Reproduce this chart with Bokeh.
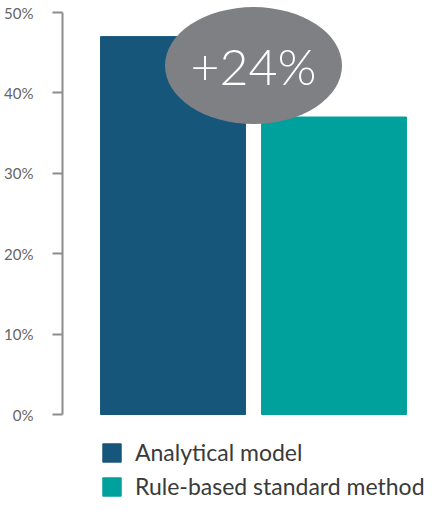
from bokeh.plotting import figure
from bokeh.models import ColumnDataSource, Range1d, FixedTicker, PrintfTickFormatter
from bokeh.core.properties import value
from bokeh.embed import file_html
from bokeh.resources import INLINE

# ---- data ----
methods = ["Analytical model", "Rule-based standard method"]
shares = [47, 37]               # percent
bar_colors = ["#17567b", "#00a09c"]
tick_values = [0, 10, 20, 30, 40, 50]
gain_label = "+24%"
gain_level = 43.4               # vertical position of the badge (percent scale)

FONT = "Lato"
W, H = 430, 500
LEFT = 62
PX_PER_UNIT_Y = 8.04
ZERO_Y = 414                    # canvas px where 0% lies
PX_PER_UNIT_X = 161.0
FIRST_BAR_PX = 110.5            # frame px of first bar centre

frame_w = W - LEFT
x0 = 1 - FIRST_BAR_PX / PX_PER_UNIT_X
x1 = x0 + frame_w / PX_PER_UNIT_X
y0 = -(H - ZERO_Y) / PX_PER_UNIT_Y
y1 = ZERO_Y / PX_PER_UNIT_Y

p = figure(width=W, height=H, output_backend="svg", toolbar_location=None,
           x_range=Range1d(x0, x1), y_range=Range1d(y0, y1),
           min_border_left=LEFT, min_border_right=0, min_border_top=0, min_border_bottom=0)
p.outline_line_color = None
p.xgrid.visible = False
p.ygrid.visible = False
p.xaxis.visible = False

xs = list(range(1, len(methods) + 1))
src = ColumnDataSource(dict(x=xs, top=shares, color=bar_colors, method=methods))
p.vbar(x="x", top="top", bottom=0, width=0.9, color="color", source=src,
       legend_field="method")

# badge
cx = sum(xs) / len(xs)
p.ellipse(x=[cx], y=[gain_level], width=177, height=117,
          width_units="screen", height_units="screen",
          fill_color="#7f8084", line_color=None)
p.text(x=[cx], y=[gain_level], text=[gain_label], text_align="center",
       text_baseline="middle", text_color="white", text_font_size="50px",
       text_font=value("'Lato Light', Lato"))

ya = p.yaxis[0]
ya.ticker = FixedTicker(ticks=tick_values)
ya.formatter = PrintfTickFormatter(format="%d%%")
ya.bounds = (0, 50)
ya.axis_line_color = "#8c8c8c"
ya.axis_line_width = 2
ya.major_tick_line_color = "#8c8c8c"
ya.major_tick_line_width = 2
ya.major_tick_out = 10
ya.major_tick_in = 0
ya.minor_tick_line_color = None
ya.major_label_standoff = 19
ya.major_label_text_font = FONT
ya.major_label_text_font_size = "15px"
ya.major_label_text_color = "#666666"

lg = p.legend[0]
lg.location = (38, 0)
lg.padding = 0
lg.margin = 0
lg.spacing = 6
lg.border_line_color = None
lg.background_fill_alpha = 0
lg.glyph_width = 23
lg.glyph_height = 23
lg.label_height = 23
lg.label_standoff = 12
lg.label_text_font = FONT
lg.label_text_font_size = "23px"
lg.label_text_color = "#3a3a3a"
lg.label_text_baseline = "middle"

open("out.html", "w").write(file_html(p, INLINE))
